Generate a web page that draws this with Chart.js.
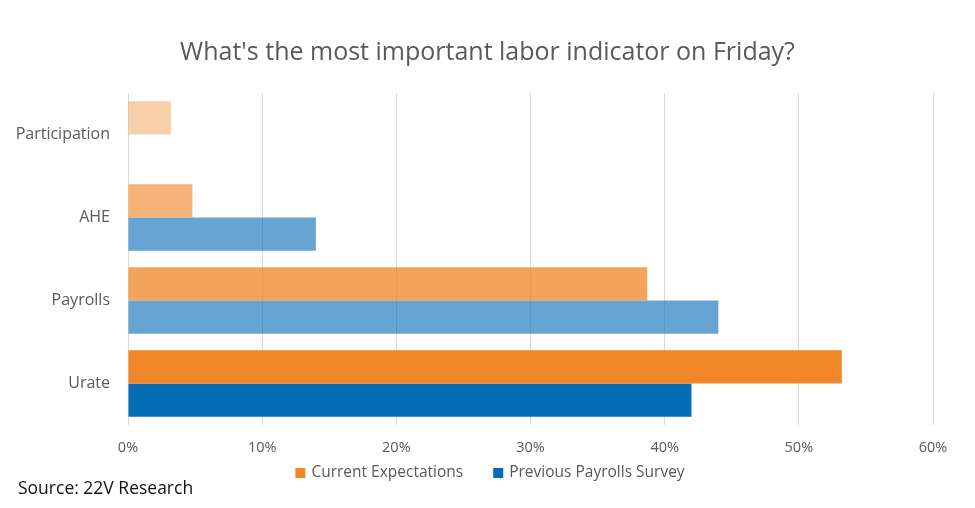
<!DOCTYPE html>
<html>
<head>
<meta charset="utf-8">
<script src="https://cdn.jsdelivr.net/npm/chart.js@4"></script>
<style>
  html, body { margin: 0; padding: 0; background: #fff; }
  #wrap { position: relative; width: 975px; height: 508px; }
  #source { position: absolute; left: 18px; top: 475px; font-family: "Open Sans", sans-serif; font-size: 17.5px; color: #111; }
</style>
</head>
<body>
<div id="wrap">
  <canvas id="chart" width="975" height="508"></canvas>
  <div id="source">Source: 22V Research</div>
</div>
<script>
const categories = ['Participation', 'AHE', 'Payrolls', 'Urate'];
const currentExpectations = [3.2, 4.8, 38.7, 53.2];
const previousSurvey = [0, 14, 44, 42];
const seriesNames = ['Current Expectations', 'Previous Payrolls Survey'];
const tickValues = [0, 10, 20, 30, 40, 50, 60];
const chartTitle = "What's the most important labor indicator on Friday?";

// fade per row, same look as the original
const orangeFill = [
  'rgba(240,134,40,0.40)', 'rgba(240,134,40,0.63)', 'rgba(240,134,40,0.76)', 'rgba(240,134,40,1)'
];
const blueFill = [
  'rgba(6,108,184,0.62)', 'rgba(6,108,184,0.62)', 'rgba(6,108,184,0.62)', 'rgba(6,108,184,1)'
];
const legendColors = ['rgb(240,134,40)', 'rgb(6,108,184)'];

const fontFamily = '"Open Sans", sans-serif';

// title centred on the whole canvas + legend with wide gaps, like the excel original
const titleAndLegend = {
  id: 'titleAndLegend',
  afterDraw(chart) {
    const c = chart.ctx;
    c.save();
    c.fillStyle = '#595959';
    c.textBaseline = 'middle';
    c.textAlign = 'center';
    c.font = '25px ' + fontFamily;
    c.fillText(chartTitle, chart.width / 2, 53);

    c.font = '15.5px ' + fontFamily;
    c.textAlign = 'left';
    const labels = chart.data.datasets.map(ds => ds.label);
    const widths = labels.map(t => c.measureText(t).width);
    const box = 10, gap = 6, itemGap = 30;
    const total = widths.reduce((s, w) => s + box + gap + w, 0) + itemGap * (labels.length - 1);
    let x = 490 - total / 2;
    const y = 473;
    labels.forEach((t, i) => {
      c.fillStyle = legendColors[i];
      c.fillRect(x, y - box / 2, box, box);
      c.fillStyle = '#595959';
      c.fillText(t, x + box + gap, y);
      x += box + gap + widths[i] + itemGap;
    });
    c.restore();
  }
};

const ctx = document.getElementById('chart').getContext('2d');
new Chart(ctx, {
  type: 'bar',
  data: {
    labels: categories,
    datasets: [{
      label: seriesNames[0],
      data: currentExpectations,
      backgroundColor: orangeFill,
      categoryPercentage: 0.8,
      barPercentage: 1.0
    }, {
      label: seriesNames[1],
      data: previousSurvey,
      backgroundColor: blueFill,
      categoryPercentage: 0.8,
      barPercentage: 1.0
    }]
  },
  plugins: [titleAndLegend],
  options: {
    indexAxis: 'y',
    responsive: false,
    animation: false,
    layout: { padding: { left: 15, right: 42, top: 93, bottom: 49 } },
    scales: {
      x: {
        min: 0,
        max: 60,
        afterBuildTicks: (axis) => { axis.ticks = tickValues.map(v => ({ value: v })); },
        afterFit: (axis) => { axis.height = 34; },
        ticks: {
          callback: (v) => v + '%',
          color: '#595959',
          font: { family: fontFamily, size: 14.5 },
          padding: 14
        },
        grid: { color: '#d9d9d9', lineWidth: 1, drawTicks: false },
        border: { display: false }
      },
      y: {
        afterFit: (axis) => { axis.width = 113; },
        grid: { display: false, drawTicks: false },
        border: { display: false },
        ticks: {
          color: '#595959',
          font: { family: fontFamily, size: 16 },
          padding: 18
        }
      }
    },
    plugins: {
      title: { display: false },
      legend: { display: false },
      tooltip: { enabled: false }
    }
  }
});
</script>
</body>
</html>
